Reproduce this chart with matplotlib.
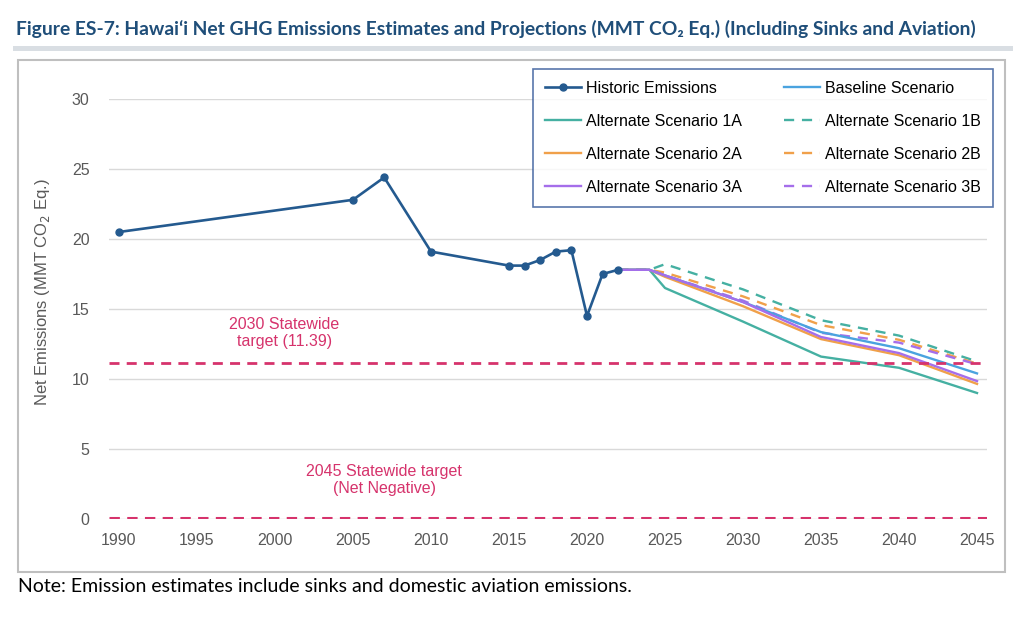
import matplotlib
matplotlib.use("Agg")
import matplotlib.pyplot as plt
from matplotlib.patches import Rectangle

# historic inventory
hist_years = [1990, 2005, 2007, 2010, 2015, 2016, 2017, 2018, 2019, 2020, 2021, 2022]
hist_vals = [20.5, 22.8, 24.4, 19.1, 18.1, 18.1, 18.5, 19.1, 19.2, 14.5, 17.5, 17.8]

# projections
proj_years = [2022, 2024, 2025, 2030, 2035, 2040, 2045]
baseline = [17.8, 17.8, 17.4, 15.5, 13.35, 12.2, 10.4]
alt_1a = [17.8, 17.8, 16.5, 14.1, 11.6, 10.8, 9.0]
alt_1b = [17.8, 17.8, 18.2, 16.4, 14.2, 13.1, 11.25]
alt_2a = [17.8, 17.8, 17.3, 15.2, 12.85, 11.7, 9.65]
alt_2b = [17.8, 17.8, 17.6, 15.9, 13.85, 12.8, 11.1]
alt_3a = [17.8, 17.8, 17.4, 15.5, 13.0, 11.85, 9.85]
alt_3b = [17.8, 17.8, 17.4, 15.6, 13.3, 12.6, 11.05]

target_2030 = 11.12
target_2045 = 0.05
x_ticks = list(range(1990, 2046, 5))
y_ticks = [0, 5, 10, 15, 20, 25, 30]

c_hist = "#245a8f"
c_base = "#4aa3df"
c_teal = "#45b0a2"
c_orange = "#f0a04a"
c_purple = "#a56eea"
c_red = "#d6336c"
c_tick = "#595959"

plt.rcParams["font.family"] = ["Liberation Sans", "DejaVu Sans"]

fig = plt.figure(figsize=(10.24, 6.23), dpi=100)
ax = fig.add_axes([109 / 1024, 1 - 519 / 623, 878 / 1024, 420 / 623])

dash = (0, (4.3, 3.3))
ax.plot(proj_years, alt_1b, color=c_teal, lw=1.7, ls=dash, label="Alternate Scenario 1B")
ax.plot(proj_years, alt_2b, color=c_orange, lw=1.7, ls=dash, label="Alternate Scenario 2B")
ax.plot(proj_years, alt_3b, color=c_purple, lw=1.7, ls=dash, label="Alternate Scenario 3B")
ax.plot(proj_years, alt_1a, color=c_teal, lw=1.7, label="Alternate Scenario 1A")
ax.plot(proj_years, alt_2a, color=c_orange, lw=1.7, label="Alternate Scenario 2A")
ax.plot(proj_years, baseline, color=c_base, lw=1.7, label="Baseline Scenario")
ax.plot(proj_years, alt_3a, color=c_purple, lw=1.7, label="Alternate Scenario 3A")
ax.plot(hist_years, hist_vals, color=c_hist, lw=1.9, marker="o", ms=5,
        label="Historic Emissions")

ax.axhline(target_2030, color=c_red, lw=2, ls=(0, (3.6, 2.6)))
ax.axhline(target_2045, color=c_red, lw=2.2, ls=(0, (3.4, 2.4)))

ax.text(2000.6, 13.3, "2030 Statewide\ntarget (11.39)", color=c_red,
        fontsize=11.5, ha="center", va="center", linespacing=1.15)
ax.text(2007.0, 2.8, "2045 Statewide target\n(Net Negative)", color=c_red,
        fontsize=11.5, ha="center", va="center", linespacing=1.15)

ax.set_xlim(1989.36, 2045.64)
ax.set_ylim(0, 30)
ax.set_xticks(x_ticks)
ax.set_yticks(y_ticks)
ax.tick_params(length=0, labelsize=11.5, labelcolor=c_tick)
ax.tick_params(axis="y", pad=14)
ax.tick_params(axis="x", pad=10)
ax.grid(axis="y", color="#d9d9d9", lw=1)
ax.set_axisbelow(True)
for s in ax.spines.values():
    s.set_visible(False)

fig.text(43 / 1024, 1 - 292 / 623, "Net Emissions (MMT CO$_2$ Eq.)", rotation=90,
         ha="center", va="center", fontsize=12, color=c_tick)

# legend in the original's order (two columns)
h, l = ax.get_legend_handles_labels()
order = ["Historic Emissions", "Alternate Scenario 1A", "Alternate Scenario 2A",
         "Alternate Scenario 3A", "Baseline Scenario", "Alternate Scenario 1B",
         "Alternate Scenario 2B", "Alternate Scenario 3B"]
hd = dict(zip(l, h))
leg = fig.legend([hd[k] for k in order], order, ncol=2, loc="upper right",
                 bbox_to_anchor=(993 / 1024, 1 - 69 / 623), borderaxespad=0,
                 fontsize=11.5, frameon=True, fancybox=False, edgecolor="#2f5597",
                 handlelength=2.3, handletextpad=0.3, labelspacing=1.12,
                 columnspacing=2.6, borderpad=0.75)
leg.get_frame().set_linewidth(1.2)

# page decorations
fig.patches.append(Rectangle((18 / 1024, 1 - 572 / 623), 987 / 1024, 512 / 623,
                             transform=fig.transFigure, fill=False,
                             edgecolor="#bfbfbf", lw=1.5))
fig.patches.append(Rectangle((13 / 1024, 1 - 50.5 / 623), 1000 / 1024, 4.5 / 623,
                             transform=fig.transFigure, facecolor="#d9dee3",
                             edgecolor="none"))

fig.text(16 / 1024, 1 - 29 / 623,
         "Figure ES-7: Hawai\u02bbi Net GHG Emissions Estimates and Projections "
         "(MMT CO\u2082 Eq.) (Including Sinks and Aviation)",
         family=["Lato", "DejaVu Sans"], fontweight="bold", fontsize=13.9,
         color="#1f4e79", ha="left", va="center")
fig.text(18 / 1024, 1 - 587 / 623,
         "Note: Emission estimates include sinks and domestic aviation emissions.",
         family=["Lato", "DejaVu Sans"], fontsize=14, color="black",
         ha="left", va="center")

fig.savefig("out.png", dpi=100)
